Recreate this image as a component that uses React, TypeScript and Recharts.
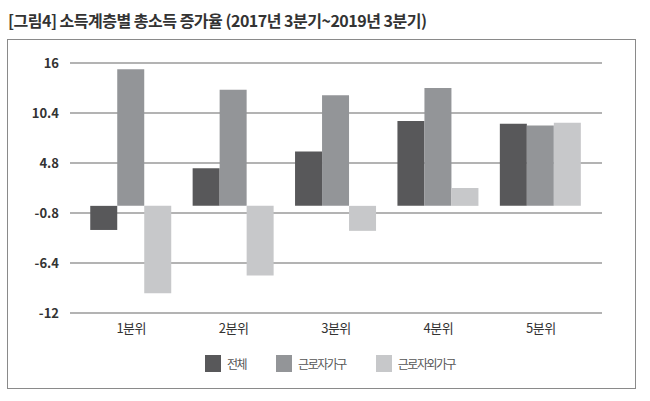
import { BarChart, Bar, XAxis, YAxis, CartesianGrid, Legend } from 'recharts'

const categories = ['1분위', '2분위', '3분위', '4분위', '5분위']
const totalValues = [-2.7, 4.2, 6.1, 9.5, 9.2]
const workerValues = [15.3, 13.0, 12.4, 13.2, 9.0]
const nonWorkerValues = [-9.8, -7.8, -2.8, 2.0, 9.3]
const yTicks = [16, 10.4, 4.8, -0.8, -6.4, -12]

const seriesNames = ['전체', '근로자가구', '근로자외가구']
const seriesColors = ['#58585a', '#939598', '#c7c8ca']

const data = categories.map((name, i) => ({
  name,
  total: totalValues[i],
  worker: workerValues[i],
  nonWorker: nonWorkerValues[i],
}))

const font = '"Noto Sans CJK KR", "Noto Sans", sans-serif'

function LegendContent() {
  return (
    <div style={{ display: 'flex', justifyContent: 'flex-start', paddingLeft: 195, alignItems: 'center', height: 40 }}>
      {seriesNames.map((name, i) => (
        <div key={name} style={{ display: 'flex', alignItems: 'center', marginRight: 30 }}>
          <span style={{ width: 16, height: 17, background: seriesColors[i], display: 'inline-block', marginRight: 6 }} />
          <span style={{ fontSize: 12, color: '#555', fontFamily: font, letterSpacing: '-1.5px' }}>{name}</span>
        </div>
      ))}
    </div>
  )
}

export default function App() {
  return (
    <div style={{ position: 'absolute', left: 0, top: 0, width: 650, height: 401, background: '#fff', fontFamily: font }}>
      <div
        style={{
          position: 'absolute',
          left: 8,
          top: 8,
          fontSize: 16,
          fontWeight: 700,
          color: '#333',
          letterSpacing: '-0.5px',
          whiteSpace: 'nowrap',
        }}
      >
        [그림4] 소득계층별 총소득 증가율 (2017년 3분기~2019년 3분기)
      </div>
      <div
        style={{
          position: 'absolute',
          left: 7,
          top: 39,
          width: 627,
          height: 348,
          border: '1.5px solid #8a8a8a',
        }}
      />
      <div style={{ position: 'absolute', left: 0, top: 0 }}>
        <BarChart
          width={650}
          height={401}
          data={data}
          margin={{ top: 63, right: 48, bottom: 18, left: 10 }}
          barCategoryGap="10%"
          barGap={0}
        >
          <CartesianGrid vertical={false} stroke="#9a9a9a" strokeWidth={1.5} />
          <XAxis
            dataKey="name"
            axisLine={false}
            tickLine={false}
            height={30}
            tickMargin={5}
            padding={{ left: 10, right: 10 }}
            tick={{ fill: '#333', fontSize: 13, fontFamily: font, letterSpacing: '-0.5px' }}
          />
          <YAxis
            domain={[-12, 16]}
            ticks={yTicks}
            interval={0}
            axisLine={false}
            tickLine={false}
            width={60}
            tickMargin={5}
            tick={{ fill: '#333', fontSize: 13, fontWeight: 700, fontFamily: font }}
          />
          <Legend verticalAlign="bottom" height={40} content={<LegendContent />} />
          <Bar dataKey="total" name={seriesNames[0]} fill={seriesColors[0]} isAnimationActive={false} />
          <Bar dataKey="worker" name={seriesNames[1]} fill={seriesColors[1]} isAnimationActive={false} />
          <Bar dataKey="nonWorker" name={seriesNames[2]} fill={seriesColors[2]} isAnimationActive={false} />
        </BarChart>
      </div>
    </div>
  )
}
